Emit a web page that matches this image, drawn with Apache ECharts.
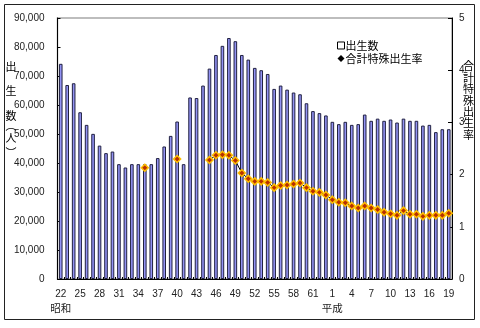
<!DOCTYPE html>
<html><head><meta charset="utf-8">
<script src="https://cdn.jsdelivr.net/npm/echarts@6/dist/echarts.min.js"></script>
<style>html,body{margin:0;padding:0;background:#fff}#c{width:480px;height:328px}</style>
</head><body><div id="c"></div>
<script>
var categories = ['22','23','24','25','26','27','28','29','30','31','32','33','34','35','36','37','38','39','40','41','42','43','44','45','46','47','48','49','50','51','52','53','54','55','56','57','58','59','60','61','62','63',
'1','2','3','4','5','6','7','8','9','10','11','12','13','14','15','16','17','18','19'];
var eraLabels = {0:'昭和', 42:'平成'};
var births = [74200,66900,67500,57500,53150,50050,46000,43400,43950,39600,38450,39600,39600,39600,39600,41700,45700,49350,54300,39600,
62600,62400,66700,72550,77250,80400,83100,82000,77250,75650,72800,72000,70700,65550,66700,65300,64300,63700,60600,57900,57200,56400,
54200,53400,54200,53150,53400,56700,54550,55300,54550,55000,53950,55300,54550,54550,52900,53150,50650,51650,51650];
var rates = [null,null,null,null,null,null,null,null,null,null,null,null,null,2.13,null,null,null,null,2.30,null,null,null,null,
2.28,2.37,2.38,2.37,2.27,2.03,1.92,1.87,1.87,1.85,1.75,1.79,1.80,1.82,1.84,1.75,1.68,1.66,1.61,
1.52,1.47,1.46,1.40,1.36,1.40,1.36,1.33,1.28,1.25,1.22,1.31,1.24,1.24,1.20,1.22,1.22,1.22,1.26];
var leftTicks = [0,10000,20000,30000,40000,50000,60000,70000,80000,90000];
var rightTicks = [0,1,2,3,4,5];
var leftTitle = ['出','生','数','︵','人','︶'];
var leftTitleY = [66.5,91,115.5,126,138,153];
var rightTitle = '合\n計\n特\n殊\n出\n生\n率';

var chart = echarts.init(document.getElementById('c'), null, {renderer:'canvas'});
var FONT = '"Liberation Sans", Arial, sans-serif';
var CJK = '"Noto Sans CJK JP", sans-serif';
var graphics = [{type:'rect', shape:{x:4.5,y:4.5,width:470,height:315}, style:{fill:null, stroke:'#222', lineWidth:1}, silent:true},
  {type:'text', left:463, top:60.5, style:{text:rightTitle, font:'11px '+CJK, lineHeight:11.4, fill:'#000', align:'left'}}];
leftTitle.forEach(function(ch,i){
  graphics.push({type:'text', x:11, y:leftTitleY[i], style:{text:ch, font:'11px '+CJK, fill:'#000', align:'center', verticalAlign:'middle'}});
});
function fmt(v){return v.toString().replace(/\B(?=(\d{3})+(?!\d))/g, ',');}
chart.setOption({
  animation:false,
  backgroundColor:'#fff',
  grid:{left:57.5, right:28, top:18, bottom:49, show:true, borderColor:'#a8a8a8', borderWidth:1.5, backgroundColor:'transparent'},
  legend:{
    orient:'vertical', left:332, top:35, itemWidth:7, itemHeight:7, itemGap:2,
    textStyle:{fontSize:11, fontFamily:CJK, color:'#000', padding:[0,0,0,-4]},
    data:[{name:'出生数', icon:'rect', itemStyle:{color:'#fff', borderColor:'#000', borderWidth:1}},
          {name:'合計特殊出生率', icon:'diamond', itemStyle:{color:'#000', borderWidth:0}}]
  },
  xAxis:{
    type:'category', data:categories, boundaryGap:true,
    axisLine:{lineStyle:{color:'#000', width:1}},
    axisTick:{show:true, inside:true, length:2, interval:0, lineStyle:{color:'#000'}},
    axisLabel:{interval:2, margin:8, fontSize:10, fontFamily:FONT, color:'#222', lineHeight:14,
      formatter:function(v,i){ return eraLabels[i] ? v+'\n{e|'+eraLabels[i]+'}' : v; },
      rich:{e:{fontSize:10.5, fontFamily:CJK, color:'#222', lineHeight:14}}},
    splitLine:{show:false}
  },
  yAxis:[{
    type:'value', min:leftTicks[0], max:leftTicks[leftTicks.length-1], interval:10000,
    axisLine:{show:true, lineStyle:{color:'#000'}},
    axisTick:{show:true, inside:true, length:3, lineStyle:{color:'#000'}},
    axisLabel:{margin:13, fontSize:10, fontFamily:FONT, color:'#222', formatter:function(v){return fmt(v);}},
    splitLine:{show:false}
  },{
    type:'value', min:rightTicks[0], max:rightTicks[rightTicks.length-1], interval:1,
    axisLine:{show:true, lineStyle:{color:'#000'}},
    axisTick:{show:true, inside:true, length:4, lineStyle:{color:'#000'}},
    axisLabel:{margin:7, fontSize:10, fontFamily:FONT, color:'#222'},
    splitLine:{show:false}
  }],
  series:[{
    name:'出生数', type:'bar', data:births, barWidth:3.6,
    itemStyle:{color:'#9393f4', borderColor:'#202040', borderWidth:1}
  },{
    name:'合計特殊出生率', type:'line', yAxisIndex:1, data:rates, connectNulls:false,
    symbol:'diamond', symbolSize:7, showAllSymbol:true,
    lineStyle:{color:'#000', width:1},
    itemStyle:{color:'#b83000', borderColor:'#ffc000', borderWidth:1.5}
  }],
  graphic:graphics
});
</script></body></html>
